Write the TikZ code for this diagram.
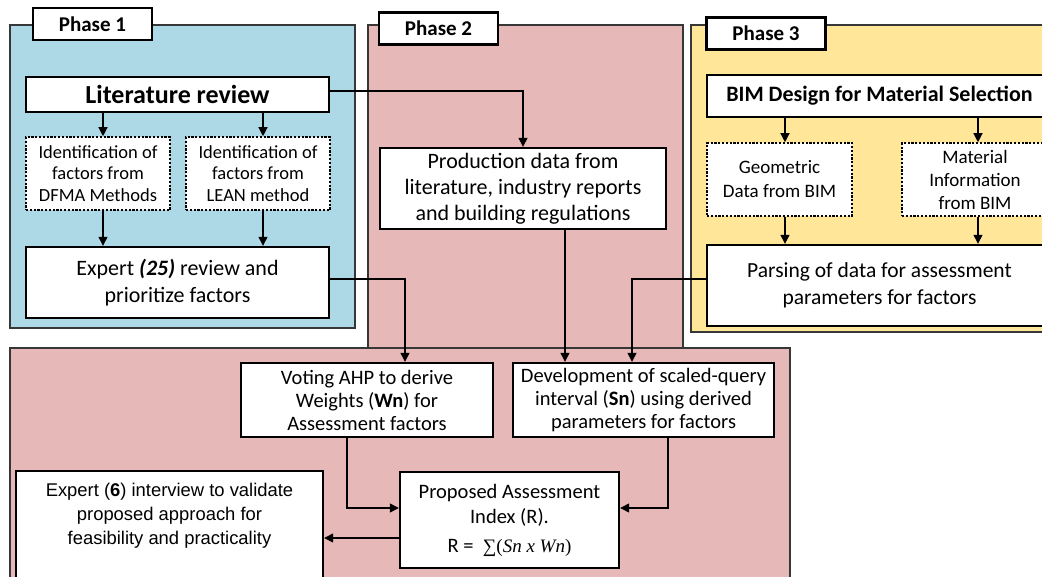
\documentclass[tikz,border=0pt]{standalone}
\usepackage{fontspec}
\setmainfont{Carlito}
\newfontfamily\arialf{Liberation Sans}
\newfontfamily\serff{Liberation Serif}
\usetikzlibrary{arrows.meta,calc}
\definecolor{pblue}{RGB}{173,216,230}
\definecolor{ppink}{RGB}{230,184,183}
\definecolor{pyellow}{RGB}{255,230,153}
\definecolor{edgec}{RGB}{55,55,55}
\begin{document}
\begin{tikzpicture}[x=1pt,y=-1pt,
  box/.style={draw=black,line width=2.4pt,fill=white,inner sep=0pt,align=center},
  dbox/.style={draw=black,line width=1.6pt,dash pattern=on 2.2pt off 1.6pt,fill=white,inner sep=0pt,align=center},
  phase/.style={draw=edgec,line width=1.3pt},
  tab/.style={box,font=\bfseries\fontsize{21}{25}\selectfont,minimum width=119pt,minimum height=32pt},
  arr/.style={draw=black,line width=1.3pt,-{Triangle[length=9pt,width=9pt]}}]
\useasboundingbox (0,0) rectangle (1042,576);
\begin{scope}
\clip (0,0) rectangle (1042,576);
\fill[white] (0,0) rectangle (1042,576);
% phase areas
\draw[phase,fill=pblue] (10,25) rectangle (355,328);
\draw[phase,fill=ppink] (368,25) rectangle (683,348);
\draw[phase,fill=pyellow] (691,25) rectangle (1060,332);
\draw[phase,fill=ppink] (10,348) rectangle (790,600);
% tabs
\node[tab] (t1) at (92.5,24) {Phase 1};
\node[tab] (t2) at (438.5,28.5) {Phase 2};
\node[tab] (t3) at (766,33.5) {Phase 3};
% phase 1
\node[box,line width=2.8pt,minimum width=303pt,minimum height=35pt,font=\bfseries\fontsize{26}{30}\selectfont] (lit) at (177.5,94.5) {Literature review};
\node[dbox,minimum width=144pt,minimum height=73pt,font=\fontsize{18.5}{21.7}\selectfont] (dfma) at (98,173.5) {Identification of\\factors from\\DFMA Methods};
\node[dbox,minimum width=144pt,minimum height=73pt,font=\fontsize{18.5}{21.7}\selectfont] (lean) at (258,173.5) {Identification of\\factors from\\LEAN method};
\node[box,minimum width=303pt,minimum height=71pt,font=\fontsize{22}{27}\selectfont] (exp25) at (177.5,282.5) {Expert \textbf{\textit{(25)}} review and\\prioritize factors};
% phase 2 top
\node[box,minimum width=286pt,minimum height=81pt,font=\fontsize{22}{26}\selectfont] (prod) at (523,188.5) {Production data from\\literature, industry reports\\and building regulations};
% phase 3
\node[box,minimum width=345pt,minimum height=42pt,font=\bfseries\fontsize{22}{26}\selectfont] (bim) at (879.5,96) {BIM Design for Material Selection};
\node[dbox,minimum width=145pt,minimum height=73pt,font=\fontsize{19}{24}\selectfont] (geo) at (779.5,179.5) {Geometric\\Data from BIM};
\node[dbox,minimum width=146pt,minimum height=73pt,font=\fontsize{19}{23}\selectfont] (mat) at (975,179.5) {Material\\Information\\from BIM};
\node[box,minimum width=345pt,minimum height=81pt,font=\fontsize{21.5}{27}\selectfont] (parse) at (879.5,285.5) {Parsing of data for assessment\\parameters for factors};
% lower part
\node[box,minimum width=252pt,minimum height=74pt,font=\fontsize{20.5}{23}\selectfont] (vote) at (367,400) {Voting AHP to derive\\Weights (\textbf{Wn}) for\\Assessment factors};
\node[box,minimum width=261pt,minimum height=74pt,font=\fontsize{20.5}{23}\selectfont] (dev) at (643.5,400) {Development of scaled-query\\interval (\textbf{Sn}) using derived\\parameters for factors};
\node[box,minimum width=219pt,minimum height=96pt,font=\fontsize{20.5}{25}\selectfont] (prop) at (509.5,520) {Proposed Assessment\\Index (R).\\[4pt]R = \ {\serff\fontsize{19}{23}\selectfont ∑(\textit{Sn x Wn})}};
\node[box,minimum width=307pt,minimum height=109pt] (exp6) at (169.5,525.5) {};
\node[font=\arialf\fontsize{18.4}{24}\selectfont,align=center,inner sep=0pt] (exp6t) at (169.5,516) {Expert (\textbf{6}) interview to validate\\proposed approach for\\feasibility and practicality};
% connectors
\draw[arr] ([xshift=5pt]dfma.north |- lit.south) -- ([xshift=5pt]dfma.north);
\draw[arr] ([xshift=5pt]lean.north |- lit.south) -- ([xshift=5pt]lean.north);
\draw[arr] ([xshift=5pt]dfma.south) -- ([xshift=5pt]dfma.south |- exp25.north);
\draw[arr] ([xshift=5pt]lean.south) -- ([xshift=5pt]lean.south |- exp25.north);
\draw[arr] ([yshift=3.5pt]lit.east) -| (prod.north);
\draw[arr] ([xshift=5.5pt]geo.north |- bim.south) -- ([xshift=5.5pt]geo.north);
\draw[arr] ([xshift=3pt]mat.north |- bim.south) -- ([xshift=3pt]mat.north);
\draw[arr] ([xshift=5.5pt]geo.south) -- ([xshift=5.5pt]geo.south |- parse.north);
\draw[arr] ([xshift=3pt]mat.south) -- ([xshift=3pt]mat.south |- parse.north);
\draw[arr] ([yshift=3.5pt]exp25.east) -| ([xshift=38pt]vote.north);
\draw[arr] ([xshift=42pt]prod.south) -- ([xshift=42pt]prod.south |- dev.north);
\draw[arr] ([yshift=6.5pt]parse.west) -| ([xshift=-11.5pt]dev.north);
\draw[arr] ([xshift=-20pt]vote.south) |- ([yshift=12pt]prop.west);
\draw[arr] ([xshift=24.5pt]dev.south) |- ([yshift=12pt]prop.east);
\draw[arr] ([yshift=-18pt]prop.west) -- ([yshift=-18pt]prop.west -| exp6.east);
\end{scope}
\end{tikzpicture}
\end{document}
